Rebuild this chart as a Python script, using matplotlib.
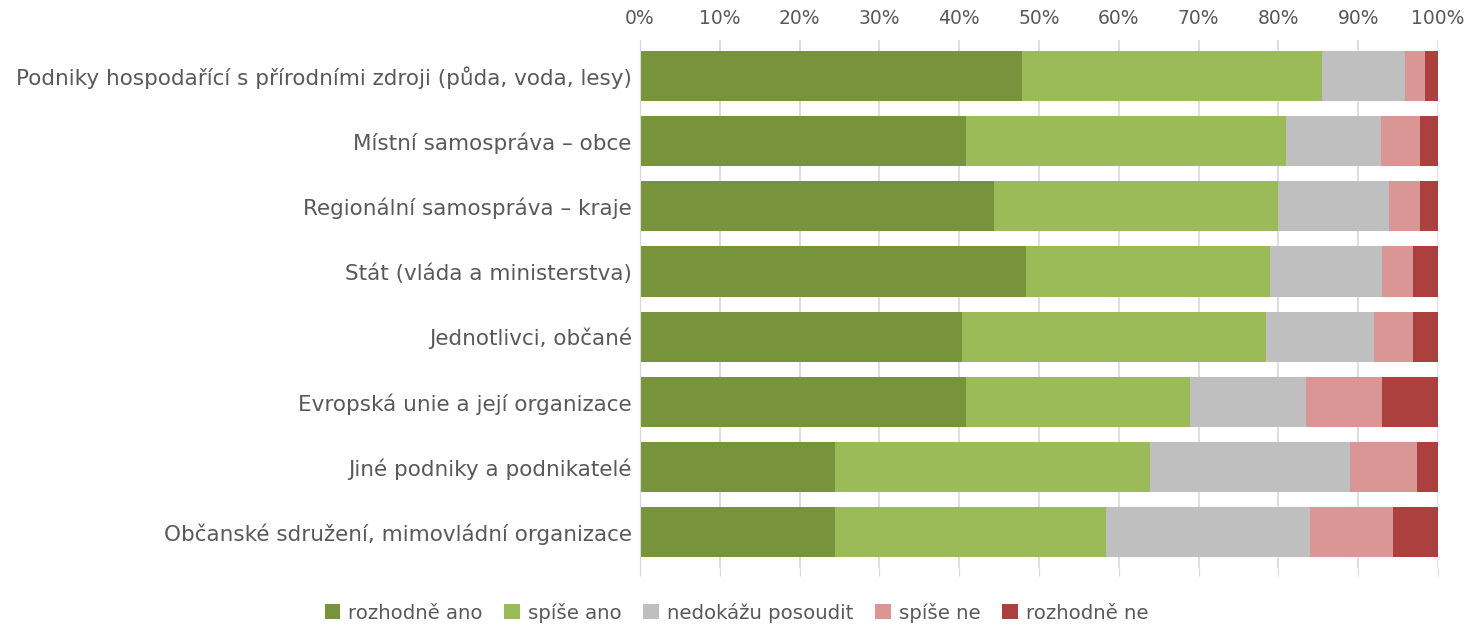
import matplotlib.pyplot as plt
import numpy as np

plt.rcParams['font.family'] = ['DejaVu Sans']

categories = ['Podniky hospodařící s přírodními zdroji (půda, voda, lesy)',
              'Místní samospráva – obce',
              'Regionální samospráva – kraje',
              'Stát (vláda a ministerstva)',
              'Jednotlivci, občané',
              'Evropská unie a její organizace',
              'Jiné podniky a podnikatelé',
              'Občanské sdružení, mimovládní organizace']
series_names = ['rozhodně ano', 'spíše ano', 'nedokážu posoudit', 'spíše ne', 'rozhodně ne']
rozhodne_ano = [47.9, 40.9, 44.4, 48.4, 40.4, 40.9, 24.4, 24.4]
spise_ano = [37.6, 40.1, 35.6, 30.5, 38.0, 28.0, 39.5, 34.0]
nedokazu = [10.4, 11.9, 13.9, 14.1, 13.6, 14.6, 25.1, 25.6]
spise_ne = [2.5, 4.8, 3.8, 3.9, 4.9, 9.5, 8.4, 10.4]
rozhodne_ne = [1.6, 2.3, 2.3, 3.1, 3.1, 7.0, 2.6, 5.6]
colors = ['#77933C', '#9BBB59', '#BFBFBF', '#D99694', '#AB403F']

series = [rozhodne_ano, spise_ano, nedokazu, spise_ne, rozhodne_ne]

fig = plt.figure(figsize=(14.64, 6.27), dpi=100)
ax = fig.add_axes([0.4372, 0.094, 0.545, 0.842])

y = np.arange(len(categories))
left = np.zeros(len(categories))
for vals, name, c in zip(series, series_names, colors):
    ax.barh(y, vals, left=left, height=0.77, color=c, label=name, zorder=2)
    left += np.array(vals)

ax.set_xlim(0, 100)
ax.set_ylim(len(categories) - 0.45, -0.55)
ax.set_yticks(y)
ax.set_yticklabels(categories, fontsize=15.5, color='#595959')
ax.set_xticks(np.arange(0, 101, 10))
ax.set_xticklabels([f'{v}%' for v in range(0, 101, 10)], fontsize=13.5, color='#595959')
ax.tick_params(axis='x', top=False, labeltop=True, bottom=True, labelbottom=False,
               length=6, color='#D9D9D9', pad=2.5)
ax.tick_params(axis='y', length=0, pad=6)
ax.grid(axis='x', color='#D9D9D9', linewidth=1.2, zorder=0)
for s in ['top', 'right', 'bottom']:
    ax.spines[s].set_visible(False)
ax.spines['left'].set_color('#D9D9D9')

handles, labels = ax.get_legend_handles_labels()
fig.legend(handles, labels, loc='center', bbox_to_anchor=(0.503, 0.023), ncol=5,
           frameon=False, fontsize=14.2, handlelength=0.8, handleheight=0.8,
           handletextpad=0.4, columnspacing=1.1, labelcolor='#595959')

fig.savefig('out.png', dpi=100)
